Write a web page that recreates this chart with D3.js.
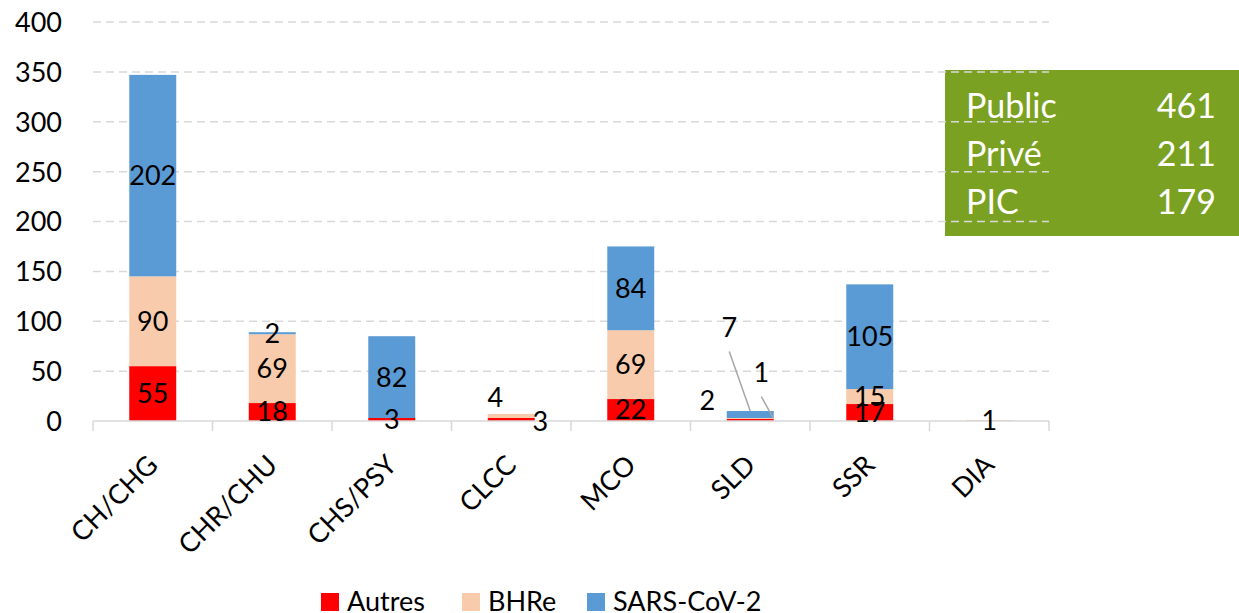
<!DOCTYPE html>
<html>
<head>
<meta charset="utf-8">
<script src="https://cdn.jsdelivr.net/npm/d3@7"></script>
<style>
  body { margin: 0; background: #fff; }
  svg text { font-family: Lato, "Open Sans", sans-serif; }
</style>
</head>
<body>
<div id="chart"></div>
<script>
// categories and stacked series
var categories = ["CH/CHG", "CHR/CHU", "CHS/PSY", "CLCC", "MCO", "SLD", "SSR", "DIA"];
var seriesNames = ["Autres", "BHRe", "SARS-CoV-2"];
var autres = [55, 18, 3, 3, 22, 2, 17, 0];
var bhre   = [90, 69, 0, 4, 69, 1, 15, 1];
var sars   = [202, 2, 82, 0, 84, 7, 105, 0];
var yTicks = [0, 50, 100, 150, 200, 250, 300, 350, 400];

// summary box
var summaryLabels = ["Public", "Privé", "PIC"];
var summaryValues = [461, 211, 179];

var colors = { "Autres": "#ff0000", "BHRe": "#f8cbad", "SARS-CoV-2": "#5b9bd5" };

// label moves for tiny segments (pixels), leader = draw a line to the segment
var labelNudge = {
    "CLCC|Autres": { dx: 29, dy: 2 },
    "CLCC|BHRe": { dx: -16, dy: -18 },
    "SLD|Autres": { dx: -43, dy: -19 },
    "SLD|BHRe": { dx: 11, dy: -46, leader: true, tx: 23 },
    "SLD|SARS-CoV-2": { dx: -21, dy: -87, leader: true, tx: 0 }
};

var width = 1239, height = 613;
var plot = { left: 93, right: 1049, top: 22, bottom: 421 };

var svg = d3.select("#chart").append("svg")
    .attr("width", width)
    .attr("height", height);

var rows = categories.map(function(c, i) {
    return { cat: c, "Autres": autres[i], "BHRe": bhre[i], "SARS-CoV-2": sars[i] };
});
var stacked = d3.stack().keys(seriesNames)(rows);

var x = d3.scaleBand()
    .domain(categories)
    .range([plot.left, plot.right])
    .paddingInner(0.607)
    .paddingOuter(0.3035);

var y = d3.scaleLinear().domain([0, 400]).range([plot.bottom, plot.top]);

// green summary box (sits under the gridlines)
svg.append("rect")
    .attr("x", 945).attr("y", 70)
    .attr("width", 294).attr("height", 166)
    .attr("fill", "#7ba122");

// gridlines
svg.append("g")
    .selectAll("line")
    .data(yTicks.filter(function(t) { return t > 0; }))
    .enter().append("line")
    .attr("x1", plot.left).attr("x2", plot.right)
    .attr("y1", function(d) { return y(d); })
    .attr("y2", function(d) { return y(d); })
    .attr("stroke", "#d9d9d9")
    .attr("stroke-width", 1.5)
    .attr("stroke-dasharray", "8,5");

var box = svg.append("g");
summaryLabels.forEach(function(lab, i) {
    box.append("text").text(lab)
        .attr("x", 966).attr("y", 118 + i * 48)
        .attr("fill", "#fff").style("font-size", "34px");
    box.append("text").text(summaryValues[i])
        .attr("x", 1216).attr("y", 118 + i * 48)
        .attr("text-anchor", "end")
        .attr("fill", "#fff").style("font-size", "34px");
});

// y axis labels
var yAxis = d3.axisLeft(y).tickValues(yTicks).tickSize(0).tickPadding(0);
var gy = svg.append("g").attr("transform", "translate(62,0)").call(yAxis);
gy.select(".domain").remove();
gy.selectAll("text")
    .attr("fill", "#000")
    .style("font-size", "27px")
    .attr("dy", "0.35em");

// bars
var layer = svg.append("g").selectAll("g")
    .data(stacked)
    .enter().append("g")
    .attr("fill", function(d) { return colors[d.key]; });

layer.selectAll("rect")
    .data(function(d) { return d; })
    .enter().append("rect")
    .attr("x", function(d) { return x(d.data.cat); })
    .attr("width", x.bandwidth())
    .attr("y", function(d) { return y(d[1]); })
    .attr("height", function(d) { return y(d[0]) - y(d[1]); });

// x axis line with ticks between categories
svg.append("line")
    .attr("x1", plot.left).attr("x2", plot.right)
    .attr("y1", plot.bottom).attr("y2", plot.bottom)
    .attr("stroke", "#d9d9d9").attr("stroke-width", 1.5);

var step = x.step();
svg.append("g").selectAll("line")
    .data(d3.range(categories.length + 1))
    .enter().append("line")
    .attr("x1", function(i) { return plot.left + i * step; })
    .attr("x2", function(i) { return plot.left + i * step; })
    .attr("y1", plot.bottom).attr("y2", plot.bottom + 10)
    .attr("stroke", "#d9d9d9").attr("stroke-width", 1.5);

// category labels, rotated
svg.append("g").selectAll("text")
    .data(categories)
    .enter().append("text")
    .text(function(d) { return d; })
    .attr("transform", function(d) {
        return "translate(" + (x(d) + x.bandwidth() / 2) + ",460) rotate(-45)";
    })
    .attr("text-anchor", "end")
    .attr("dy", "0.35em")
    .style("font-size", "27px");

// data labels
var labels = svg.append("g");
stacked.forEach(function(s) {
    s.forEach(function(d) {
        var v = d[1] - d[0];
        if (!v) return;
        var cx = x(d.data.cat) + x.bandwidth() / 2;
        var cy = (y(d[0]) + y(d[1])) / 2;
        var n = labelNudge[d.data.cat + "|" + s.key] || { dx: 0, dy: 0 };
        var lx = cx + n.dx, ly = cy + n.dy;
        if (n.leader) {
            labels.append("line")
                .attr("x1", lx).attr("y1", ly + 24)
                .attr("x2", cx + n.tx).attr("y2", y(d[1]))
                .attr("stroke", "#a6a6a6").attr("stroke-width", 1.5);
        }
        labels.append("text").text(v)
            .attr("x", lx).attr("y", ly)
            .attr("dy", "0.35em")
            .attr("text-anchor", "middle")
            .style("font-size", "27px");
    });
});

// legend
var legendX = [321, 462, 587];
var legend = svg.append("g");
seriesNames.forEach(function(name, i) {
    legend.append("rect")
        .attr("x", legendX[i]).attr("y", 593)
        .attr("width", 18).attr("height", 18)
        .attr("fill", colors[name]);
    legend.append("text").text(name)
        .attr("x", legendX[i] + 26).attr("y", 611)
        .style("font-size", "27px");
});
</script>
</body>
</html>
